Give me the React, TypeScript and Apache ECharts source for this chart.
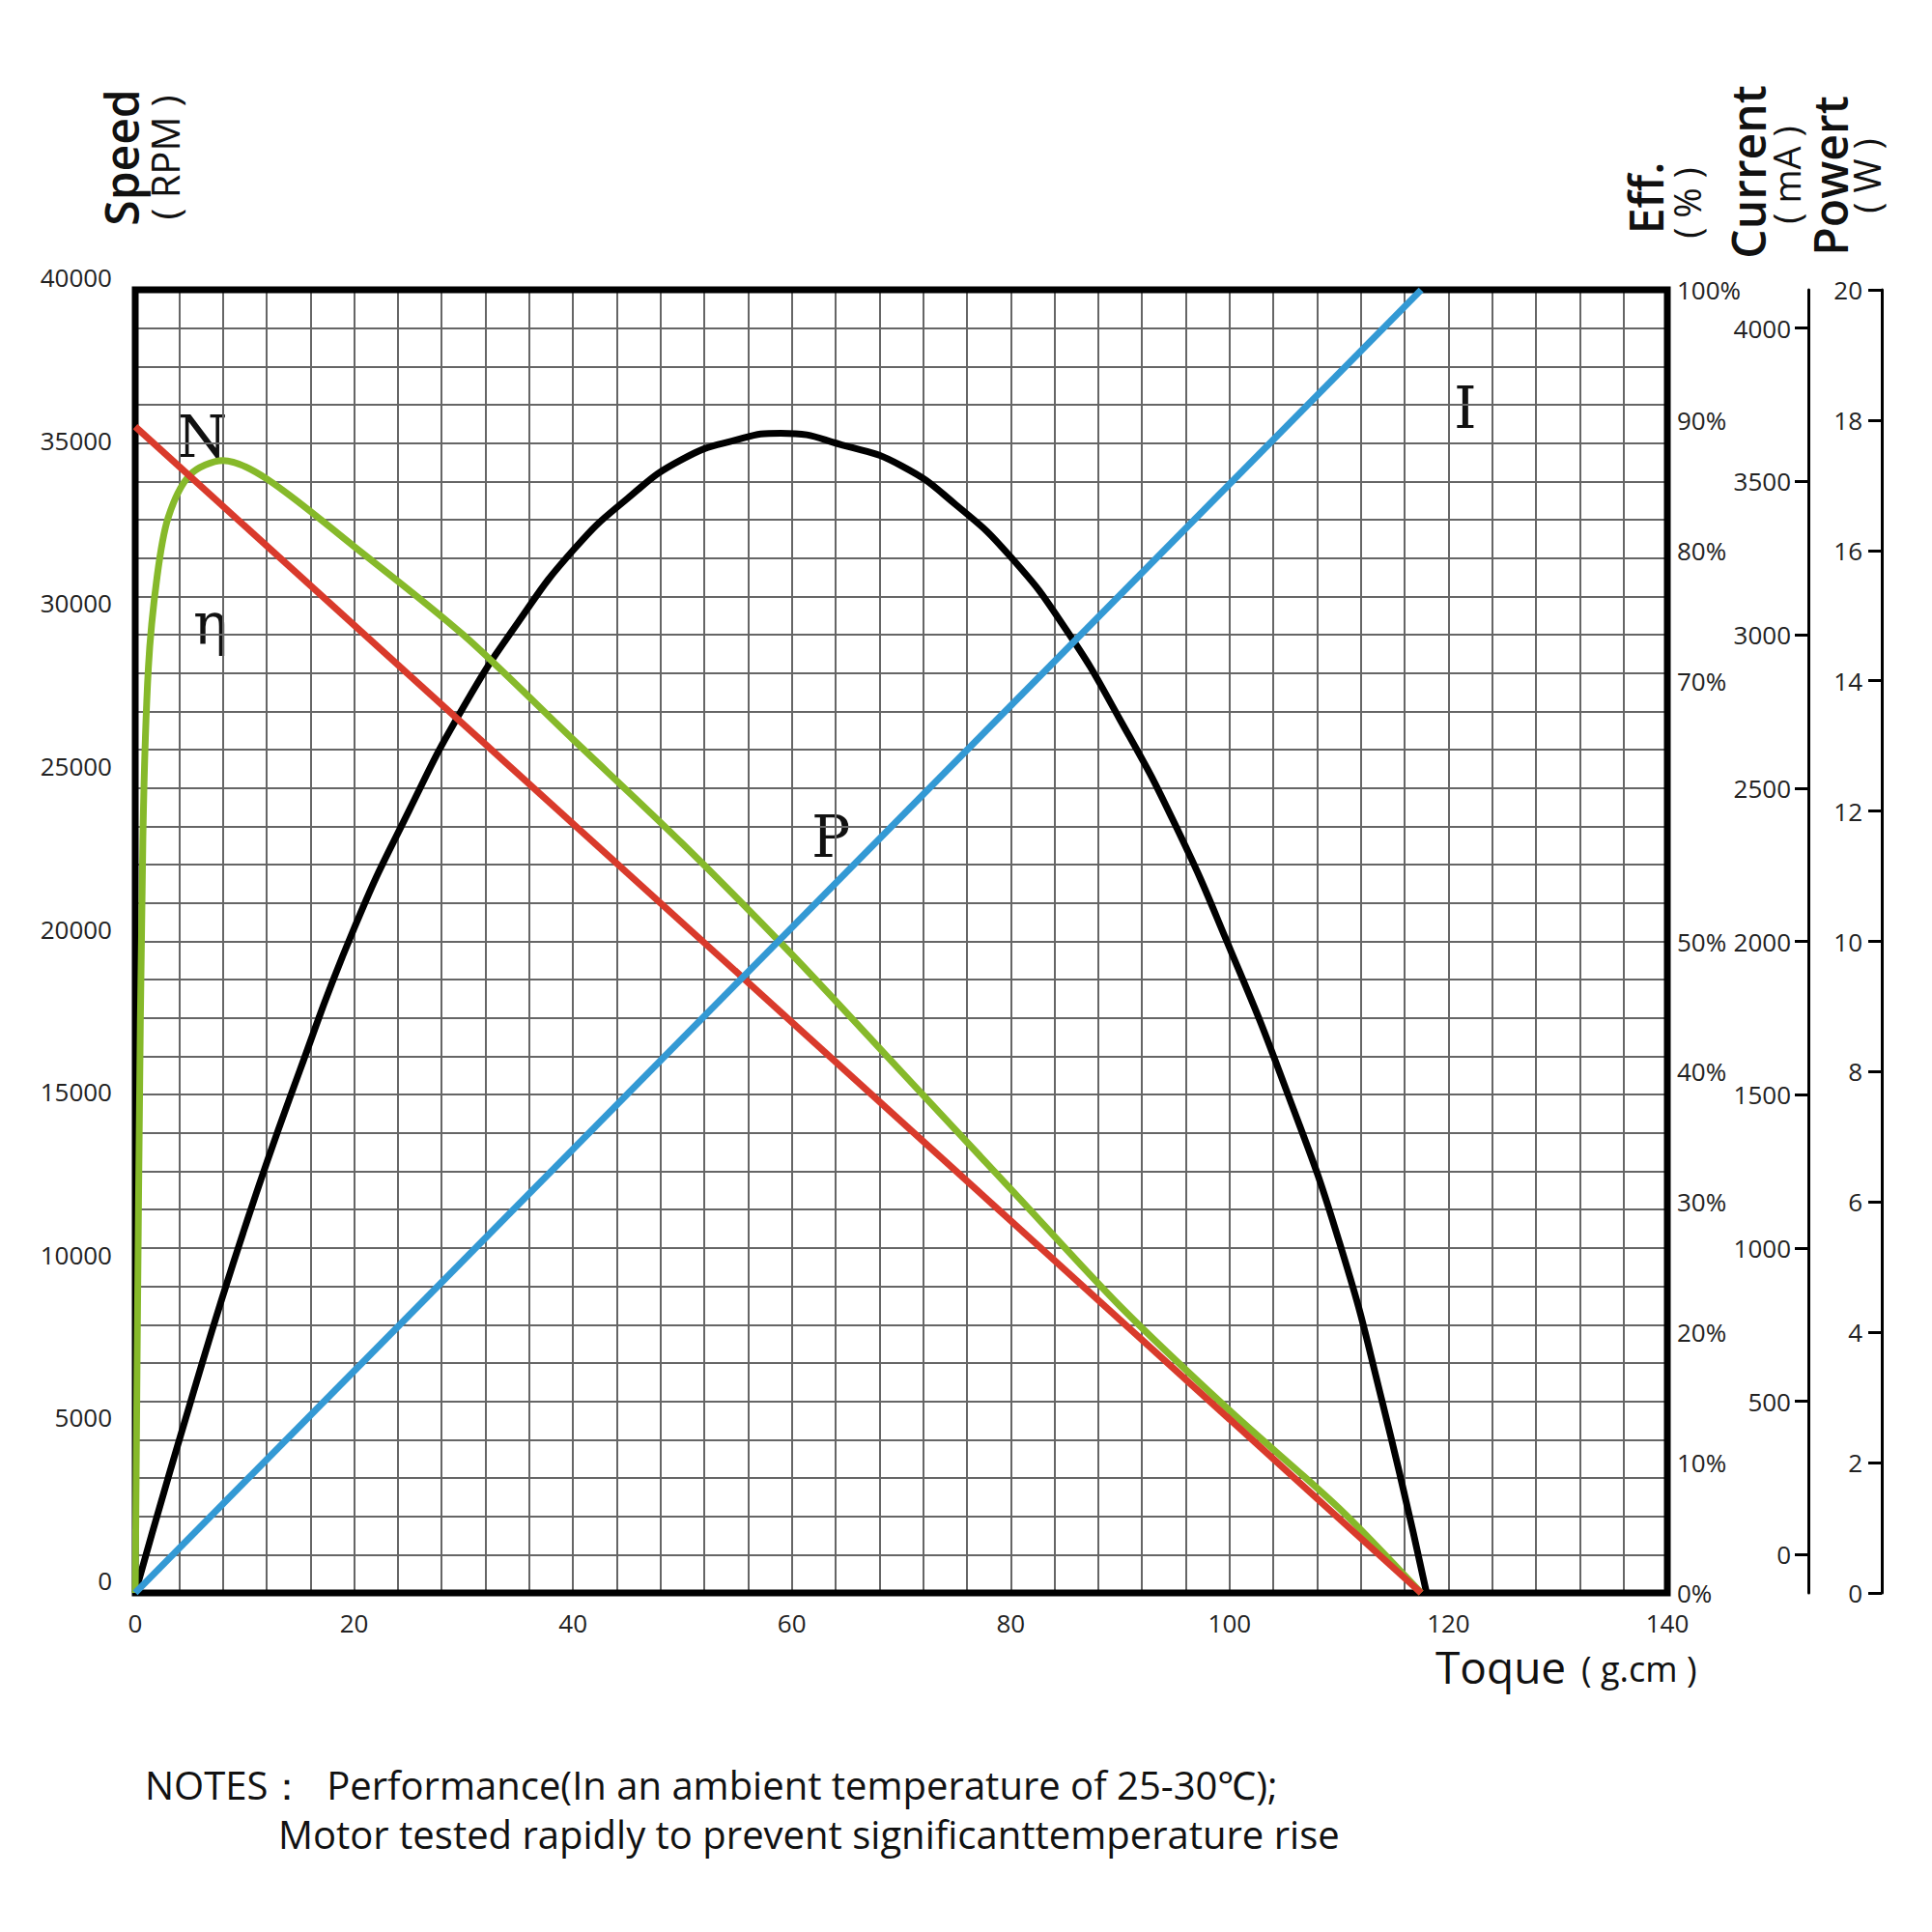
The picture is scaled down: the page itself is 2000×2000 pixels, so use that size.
import { useEffect, useRef } from 'react'
import * as echarts from 'echarts'

const torqueTicks = [0, 20, 40, 60, 80, 100, 120, 140]
const effTicksShown = [0, 10, 20, 30, 40, 50, 70, 80, 90, 100]
const speedData = [[0, 35800], [117.5, 0]]
const currentData = [[0, -124], [117.5, 4124]]
const powerData = [
  [0, 0], [5, 2.9], [10, 5.6], [15, 8.0], [20, 10.2], [25, 12.0], [30, 13.6], [35, 14.9],
  [40, 16.0], [45, 16.8], [50, 17.4], [55, 17.7], [59, 17.8], [65, 17.6], [70, 17.3],
  [75, 16.7], [80, 15.9], [85, 14.8], [90, 13.4], [95, 11.8], [100, 9.9], [105, 7.8],
  [110, 5.4], [114, 2.9], [118, 0],
]
const effData = [
  [0, 0], [0.3, 30], [0.7, 58], [1.2, 71], [2, 78], [3, 82.5], [5, 85.8], [8, 86.9],
  [12, 85.5], [20, 80.3], [30, 73.5], [40, 65.5], [50, 57.5], [60, 49], [70, 40],
  [80, 31], [90, 22], [100, 14], [110, 6.5], [117.5, 0],
]
const currentTicks = [0, 500, 1000, 1500, 2000, 2500, 3000, 3500, 4000]

const SANS = '"Open Sans", "Noto Sans", sans-serif'
const SERIF = '"DejaVu Serif", "Liberation Serif", serif'

const vText = (x: number, y: number, text: string, size: number, weight = 'normal') => ({
  type: 'text', x, y, rotation: Math.PI / 2,
  style: { text, fontSize: size, fontWeight: weight, fontFamily: SANS, fill: '#111', align: 'center', verticalAlign: 'middle' },
})
const hText = (x: number, y: number, text: string, size: number, font = SANS) => ({
  type: 'text', x, y,
  style: { text, fontSize: size, fontFamily: font, fill: '#111', verticalAlign: 'middle' },
})

export default function App() {
  const ref = useRef<HTMLDivElement>(null)

  useEffect(() => {
    if (!ref.current) return
    const chart = echarts.init(ref.current, null, { renderer: 'svg' })
    const label = { fontSize: 26, fontFamily: SANS, color: '#222' }
    chart.setOption({
      animation: false,
      grid: { left: 140, top: 300, right: 274, bottom: 351, show: true, borderColor: '#000', borderWidth: 7, z: 5 },
      xAxis: {
        type: 'value', min: 0, max: 140, interval: 4,
        axisLine: { show: false }, axisTick: { show: false },
        axisLabel: { ...label, margin: 18, formatter: (v: number) => (torqueTicks.includes(v) ? String(v) : '') },
        splitLine: { show: true, lineStyle: { color: '#666', width: 2 } },
      },
      yAxis: [
        {
          type: 'value', min: 0, max: 40000, interval: 5000, position: 'left',
          axisLine: { show: false }, axisTick: { show: false }, splitLine: { show: false },
          axisLabel: { ...label, margin: 24, verticalAlign: 'bottom', formatter: (v: number) => String(v) },
        },
        {
          type: 'value', min: 0, max: 100, interval: 10, position: 'right',
          axisLine: { show: false }, axisTick: { show: false }, splitLine: { show: false },
          axisLabel: { ...label, margin: 10, formatter: (v: number) => (effTicksShown.includes(v) ? v + '%' : '') },
        },
        {
          type: 'value', min: -124.5, max: 4124.5, position: 'right', offset: 146,
          axisLine: { show: true, lineStyle: { color: '#000', width: 3 } },
          axisTick: { show: true, inside: true, length: 14, customValues: currentTicks, lineStyle: { color: '#000', width: 3 } },
          axisLabel: { ...label, inside: true, margin: 18, customValues: currentTicks, formatter: (v: number) => String(v) },
          splitLine: { show: false },
        },
        {
          type: 'value', min: 0, max: 20, interval: 2, position: 'right', offset: 222,
          axisLine: { show: true, lineStyle: { color: '#000', width: 3 } },
          axisTick: { show: true, inside: true, length: 14, lineStyle: { color: '#000', width: 3 } },
          axisLabel: { ...label, inside: true, margin: 20 },
          splitLine: { show: false },
        },
        {
          type: 'value', min: 0, max: 34, interval: 1, show: true, position: 'left',
          axisLine: { show: false }, axisTick: { show: false }, axisLabel: { show: false },
          splitLine: { show: true, lineStyle: { color: '#666', width: 2 } },
        },
      ],
      series: [
        { type: 'line', data: powerData, yAxisIndex: 3, smooth: true, symbol: 'none', lineStyle: { color: '#000', width: 7 }, z: 6 },
        { type: 'line', data: effData, yAxisIndex: 1, smooth: 0.3, symbol: 'none', lineStyle: { color: '#86b92a', width: 7 }, z: 6 },
        { type: 'line', data: speedData, yAxisIndex: 0, symbol: 'none', lineStyle: { color: '#d93a2b', width: 7 }, z: 6 },
        { type: 'line', data: currentData, yAxisIndex: 2, symbol: 'none', lineStyle: { color: '#3399d4', width: 7 }, z: 6 },
      ],
      graphic: [
        vText(125, 163, 'Speed', 48, '600'),
        vText(170, 163, '( RPM )', 40),
        vText(1703, 205, 'Eff.', 48, '600'),
        vText(1746, 210, '( % )', 38),
        vText(1809, 178, 'Current', 48, '600'),
        vText(1849, 181, '( mA )', 38),
        vText(1894, 182, 'Powert', 48, '600'),
        vText(1932, 182, '( W )', 38),
        hText(1486, 1725, 'Toque', 46),
        hText(1637, 1727, '( g.cm )', 36),
        hText(183, 452, 'N', 60, SERIF),
        hText(200, 646, 'η', 60, SERIF),
        hText(840, 866, 'P', 60, SERIF),
        hText(1505, 422, 'I', 60, SERIF),
        hText(150, 1847, 'NOTES：  Performance(In an ambient temperature of 25-30℃);', 40),
        hText(288, 1898, 'Motor tested rapidly to prevent significanttemperature rise', 40),
      ],
    })
    return () => chart.dispose()
  }, [])

  return <div ref={ref} style={{ position: 'absolute', left: 0, top: 0, width: 2000, height: 2000, background: '#fff' }} />
}
